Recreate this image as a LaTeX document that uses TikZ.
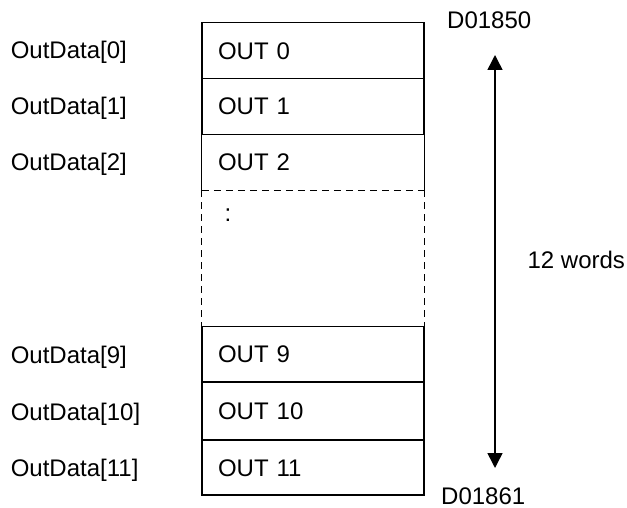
\documentclass[tikz,border=0pt]{standalone}
\usepackage{fontspec}
\setmainfont{Liberation Sans}
\usetikzlibrary{arrows.meta}
\begin{document}
\begin{tikzpicture}[x=1pt,y=-1pt,
  every node/.style={font=\fontsize{24}{28}\selectfont, inner sep=0pt},
  cell/.style={minimum width=222pt, text width=190pt, align=left, inner xsep=16pt, inner ysep=0pt,
               text height=17pt, text depth=0pt},
  celldraw/.style={cell, draw, line width=1.2pt},
  gapline/.style={line width=1.3pt, dash pattern=on 7pt off 5pt},
  lbl/.style={anchor=base west},
  span/.style={line width=1.5pt, {Triangle[length=15pt,width=15pt]}-{Triangle[length=15pt,width=15pt]}}]
\useasboundingbox (0,0) rectangle (627,508);

% dashed gap region
\node[cell, minimum height=136.2pt] (gap) at (313,258.6) {};
\draw[gapline] (gap.north west) -- (gap.north east);
\draw[gapline] (gap.north west) -- (gap.south west);
\draw[gapline] (gap.north east) -- (gap.south east);
\node[lbl] (dots) at (224.5,221.5) {:};

% rows
\node[celldraw, minimum height=55.8pt] (r0) at (313,50.6) {OUT 0};
\node[celldraw, minimum height=56pt] (r1) at (313,106.5) {OUT 1};
\node[cell, minimum height=56pt] (r2) at (313,162.5) {OUT 2};
\draw[line width=1.2pt] (r2.south west) -- (r2.north west) -- (r2.north east) -- (r2.south east);
\node[celldraw, minimum height=55.3pt] (r9) at (313,354.35) {OUT 9};
\node[celldraw, minimum height=58pt] (r10) at (313,411) {OUT 10};
\node[celldraw, minimum height=55pt] (r11) at (313,467.5) {OUT 11};

% left labels
\node[lbl] (l0) at (10.6,59) {OutData[0]};
\node[lbl] (l1) at (10.6,115) {OutData[1]};
\node[lbl] (l2) at (10.6,171) {OutData[2]};
\node[lbl] (l9) at (10.6,363) {OutData[9]};
\node[lbl] (l10) at (10.6,420) {OutData[10]};
\node[lbl] (l11) at (10.6,476.5) {OutData[11]};

% span arrow
\coordinate (atop) at (495,55);
\coordinate (abot) at (495,468);
\draw[span] (atop) -- (abot);
\node[lbl] (dstart) at (447,29) {D01850};
\node[lbl] (dend) at (441,504) {D01861};
\node[lbl] (words) at (527.4,269) {12 words};
\end{tikzpicture}
\end{document}
